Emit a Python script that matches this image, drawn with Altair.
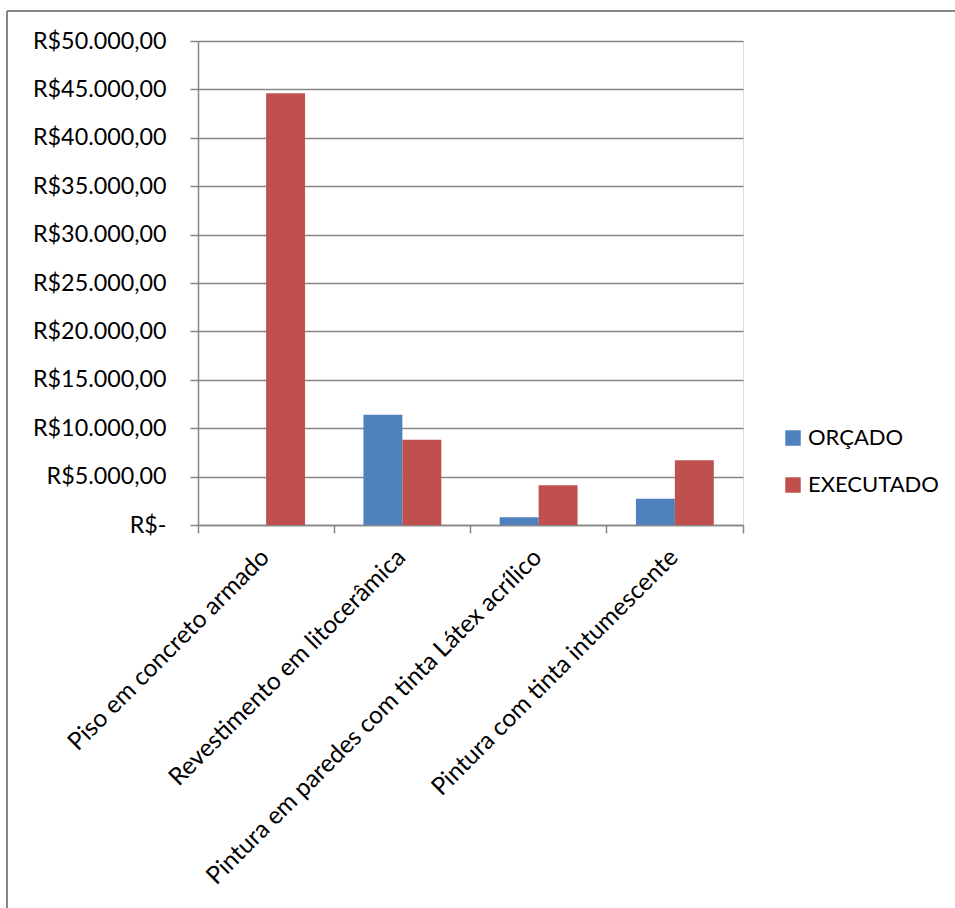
import altair as alt
import pandas as pd

categories = [
    "Piso em concreto armado",
    "Revestimento em litocerâmica",
    "Pintura em paredes com tinta Látex acrílico",
    "Pintura com tinta intumescente",
]
series = ["ORÇADO", "EXECUTADO"]
orcado = [0, 11400, 800, 2700]
executado = [44600, 8800, 4100, 6700]
y_ticks = [0, 5000, 10000, 15000, 20000, 25000, 30000, 35000, 40000, 45000, 50000]
colors = ["#4F81BD", "#C0504D"]

rows = []
for c, o, e in zip(categories, orcado, executado):
    rows.append({"cat": c, "serie": series[0], "valor": o})
    rows.append({"cat": c, "serie": series[1], "valor": e})
df = pd.DataFrame(rows)

W, H = 545, 484
FONT = "Lato"
GRAY = "#868686"

bars = alt.Chart(df).mark_bar().encode(
    x=alt.X(
        "cat:N", sort=categories, title=None,
        scale=alt.Scale(paddingInner=0, paddingOuter=0),
        axis=alt.Axis(
            labelAngle=315, labelAlign="right", labelBaseline="top",
            labelFontSize=24.5, labelFont=FONT, labelColor="black",
            domainColor=GRAY, domainWidth=1.5, tickColor=GRAY, tickWidth=1.5,
            tickSize=8, bandPosition=1, tickExtra=True, labelPadding=12,
            labelOffset=-9, labelLimit=0, grid=False,
        ),
    ),
    xOffset=alt.XOffset("serie:N", sort=series,
                        scale=alt.Scale(paddingInner=0, paddingOuter=0.75)),
    y=alt.Y(
        "valor:Q", title=None,
        scale=alt.Scale(domain=[0, 50000], nice=False),
        axis=alt.Axis(
            values=y_ticks, format=",.2f",
            labelExpr="datum.value == 0 ? 'R$-' : 'R$' + datum.label",
            labelFontSize=23.3, labelFont=FONT, labelColor="black",
            labelPadding=24, tickSize=8, tickColor=GRAY, tickWidth=1.5,
            domainColor=GRAY, domainWidth=1.5,
            grid=True, gridColor=GRAY, gridWidth=1.5,
        ),
    ),
    color=alt.Color(
        "serie:N", sort=series,
        scale=alt.Scale(domain=series, range=colors),
        legend=alt.Legend(
            title=None, orient="none", legendX=584, legendY=386,
            symbolType="square", symbolSize=240, symbolStrokeWidth=0,
            labelFontSize=22, labelFont=FONT, labelColor="black",
            labelOffset=4, rowPadding=25, padding=0,
        ),
    ),
)

frame = pd.DataFrame({"a": [0]})
left_line = alt.Chart(frame).mark_rule(color=GRAY, strokeWidth=2).encode(
    x=alt.value(7 - 198), y=alt.value(11 - 41), y2=alt.value(908)
)
top_line = alt.Chart(frame).mark_rule(color=GRAY, strokeWidth=2).encode(
    x=alt.value(7 - 198), x2=alt.value(800), y=alt.value(11 - 41)
)

chart = alt.layer(left_line, top_line, bars).properties(
    width=W, height=H,
    autosize=alt.AutoSizeParams(type="none"),
    padding={"left": 198, "top": 41, "right": 212, "bottom": 383},
    background="white",
).configure_view(stroke=None).configure(
    locale={"number": {"decimal": ",", "thousands": ".", "grouping": [3],
                       "currency": ["R$", ""]}}
)

chart.save("out.html", embed_options={"renderer": "svg", "actions": False})
